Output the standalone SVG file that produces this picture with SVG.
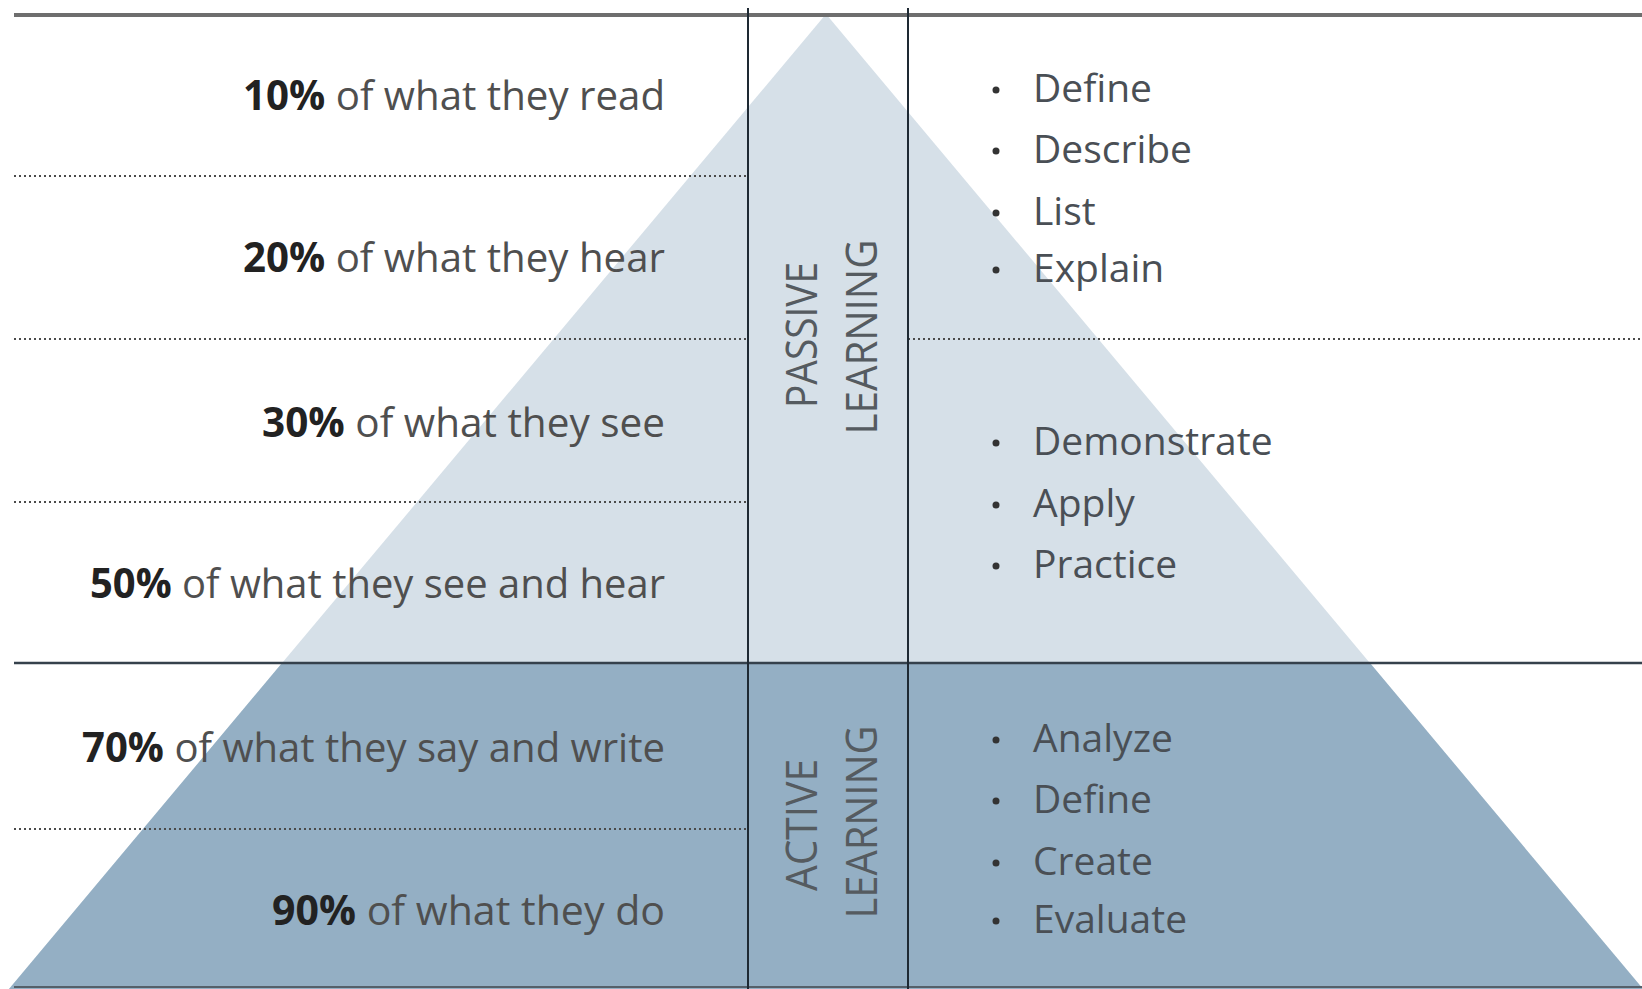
<svg xmlns="http://www.w3.org/2000/svg" width="1642" height="989" viewBox="0 0 1642 989">
<style>
.lbl{font-family:"Open Sans","Liberation Sans",sans-serif;font-size:41px;fill:#4f4f4f;text-anchor:end}
.lbl .b{font-weight:bold;fill:#222}
.item{font-family:"Open Sans","Liberation Sans",sans-serif;font-size:39px;fill:#4a4f55}
.rot{font-family:"Open Sans","Liberation Sans",sans-serif;font-size:44px;fill:#555b60;text-anchor:middle}
.dot{stroke:#4a4a4a;stroke-width:2;stroke-dasharray:2 3;fill:none}
.vline{stroke:#1e2933;stroke-width:2;fill:none}
.bul{fill:#333}
</style>
<rect width="1642" height="989" fill="#ffffff"/>
<g id="pyramid">
<polygon points="826,14 9,989 1643,989" fill="#d6e0e8"/>
<polygon points="282,663 1370,663 1643,989 9,989" fill="#94afc4"/>
</g>
<g id="connectors">
<line x1="14" y1="15" x2="1642" y2="15" stroke="#6e6e6e" stroke-width="4"/>
<line class="dot" x1="14" y1="176" x2="748" y2="176"/>
<line class="dot" x1="14" y1="339" x2="748" y2="339"/>
<line class="dot" x1="908" y1="339" x2="1642" y2="339"/>
<line class="dot" x1="14" y1="502" x2="748" y2="502"/>
<line class="dot" x1="14" y1="829" x2="748" y2="829"/>
<line x1="14" y1="663" x2="1642" y2="663" stroke="#35414c" stroke-width="2.5"/>
<line x1="14" y1="987" x2="1642" y2="987" stroke="#55606a" stroke-width="2"/>
<line class="vline" x1="748" y1="8" x2="748" y2="989"/>
<line class="vline" x1="908" y1="8" x2="908" y2="989"/>
</g>
<g id="left-labels">
<text class="lbl" x="665" y="110" textLength="422" lengthAdjust="spacingAndGlyphs"><tspan class="b">10%</tspan> of what they read</text>
<text class="lbl" x="665" y="272" textLength="422" lengthAdjust="spacingAndGlyphs"><tspan class="b">20%</tspan> of what they hear</text>
<text class="lbl" x="665" y="437" textLength="403" lengthAdjust="spacingAndGlyphs"><tspan class="b">30%</tspan> of what they see</text>
<text class="lbl" x="665" y="598" textLength="575" lengthAdjust="spacingAndGlyphs"><tspan class="b">50%</tspan> of what they see and hear</text>
<text class="lbl" x="665" y="762" textLength="583" lengthAdjust="spacingAndGlyphs"><tspan class="b">70%</tspan> of what they say and write</text>
<text class="lbl" x="665" y="925" textLength="393" lengthAdjust="spacingAndGlyphs"><tspan class="b">90%</tspan> of what they do</text>
</g>
<g id="passive-label">
<text class="rot" transform="translate(817,335) rotate(-90)" textLength="146" lengthAdjust="spacingAndGlyphs">PASSIVE</text>
<text class="rot" transform="translate(877,337) rotate(-90)" textLength="195" lengthAdjust="spacingAndGlyphs">LEARNING</text>
</g>
<g id="active-label">
<text class="rot" transform="translate(817,825) rotate(-90)" textLength="132" lengthAdjust="spacingAndGlyphs">ACTIVE</text>
<text class="rot" transform="translate(877,822) rotate(-90)" textLength="193" lengthAdjust="spacingAndGlyphs">LEARNING</text>
</g>
<g id="passive-items">
<circle class="bul" cx="996" cy="90" r="3.5"/><text class="item" x="1033" y="102">Define</text>
<circle class="bul" cx="996" cy="151" r="3.5"/><text class="item" x="1033" y="163">Describe</text>
<circle class="bul" cx="996" cy="213" r="3.5"/><text class="item" x="1033" y="225">List</text>
<circle class="bul" cx="996" cy="270" r="3.5"/><text class="item" x="1033" y="282">Explain</text>
</g>
<g id="practice-items">
<circle class="bul" cx="996" cy="443" r="3.5"/><text class="item" x="1033" y="455">Demonstrate</text>
<circle class="bul" cx="996" cy="505" r="3.5"/><text class="item" x="1033" y="517">Apply</text>
<circle class="bul" cx="996" cy="566" r="3.5"/><text class="item" x="1033" y="578">Practice</text>
</g>
<g id="active-items">
<circle class="bul" cx="996" cy="740" r="3.5"/><text class="item" x="1033" y="752">Analyze</text>
<circle class="bul" cx="996" cy="801" r="3.5"/><text class="item" x="1033" y="813">Define</text>
<circle class="bul" cx="996" cy="863" r="3.5"/><text class="item" x="1033" y="875">Create</text>
<circle class="bul" cx="996" cy="921" r="3.5"/><text class="item" x="1033" y="933">Evaluate</text>
</g>
</svg>
